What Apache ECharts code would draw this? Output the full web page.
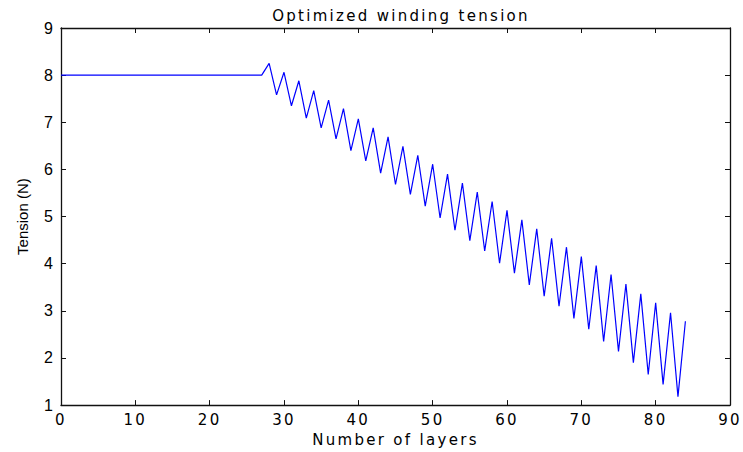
<!DOCTYPE html>
<html>
<head>
<meta charset="utf-8">
<script src="https://cdn.jsdelivr.net/npm/echarts@6/dist/echarts.min.js"></script>
<style>
html,body{margin:0;padding:0;background:#fff;}
#chart{width:743px;height:452px;}
#chart text[style*="DejaVu"], #chart text[font-family*="DejaVu"]{letter-spacing:2.3px;}
</style>
</head>
<body>
<div id="chart"></div>
<script>
var layers = [0,1,2,3,4,5,6,7,8,9,10,11,12,13,14,15,16,17,18,19,20,21,22,23,24,25,26,27,
  28,29,30,31,32,33,34,35,36,37,38,39,40,41,42,43,44,45,46,47,48,49,50,51,52,53,54,55,56,
  57,58,59,60,61,62,63,64,65,66,67,68,69,70,71,72,73,74,75,76,77,78,79,80,81,82,83,84];
var tension = [8,8,8,8,8,8,8,8,8,8,8,8,8,8,8,8,8,8,8,8,8,8,8,8,8,8,8,8,
  8.25,7.58,8.06,7.35,7.88,7.09,7.67,6.88,7.47,6.65,7.29,6.40,7.07,6.18,6.88,5.92,6.69,5.68,
  6.49,5.47,6.30,5.22,6.11,4.97,5.90,4.71,5.71,4.49,5.52,4.27,5.32,4.01,5.13,3.80,4.93,3.55,
  4.74,3.31,4.54,3.10,4.35,2.84,4.15,2.61,3.96,2.35,3.77,2.14,3.57,1.90,3.36,1.65,3.17,1.44,
  2.96,1.18,2.78];
var xTicks = [0,10,20,30,40,50,60,70,80,90];
var yTicks = [1,2,3,4,5,6,7,8,9];

var WIDE = '"DejaVu Sans", Verdana, sans-serif';
var NARROW = '"Liberation Sans", Arial, Helvetica, sans-serif';
var data = layers.map(function(x,i){return [x, tension[i]];});

var chart = echarts.init(document.getElementById('chart'), null, {renderer:'svg'});
var axisLine = {show:true, onZero:false, lineStyle:{color:'#111', width:1.3}};
var tick = {show:true, inside:true, length:5, lineStyle:{color:'#111', width:1}};
chart.setOption({
  animation:false,
  backgroundColor:'#fff',
  title:{text:'Optimized winding tension', left:396, top:3, textAlign:'center',
    textStyle:{fontFamily:WIDE, fontSize:15, fontWeight:'normal', color:'#000'}},
  grid:{left:61, right:13, top:28, bottom:46, containLabel:false},
  xAxis:[{
    type:'value', min:xTicks[0], max:xTicks[xTicks.length-1], interval:10,
    name:'Number of layers', nameLocation:'middle', nameGap:25,
    nameTextStyle:{fontFamily:WIDE, fontSize:15, color:'#000'},
    axisLine:axisLine, axisTick:tick, splitLine:{show:false},
    axisLabel:{fontFamily:WIDE, fontSize:15, color:'#000', margin:7}
  },{
    type:'value', position:'top', min:xTicks[0], max:xTicks[xTicks.length-1], interval:10,
    axisLine:axisLine, axisTick:tick, splitLine:{show:false}, axisLabel:{show:false}
  }],
  yAxis:[{
    type:'value', min:yTicks[0], max:yTicks[yTicks.length-1], interval:1,
    name:'Tension (N)', nameLocation:'middle', nameGap:31,
    nameTextStyle:{fontFamily:NARROW, fontSize:15, color:'#000'},
    axisLine:axisLine, axisTick:tick, splitLine:{show:false},
    axisLabel:{fontFamily:NARROW, fontSize:16, color:'#000', margin:8}
  },{
    type:'value', position:'right', min:yTicks[0], max:yTicks[yTicks.length-1], interval:1,
    axisLine:axisLine, axisTick:tick, splitLine:{show:false}, axisLabel:{show:false}
  }],
  series:[{
    type:'line', data:data, xAxisIndex:0, yAxisIndex:0,
    showSymbol:false, symbol:'none',
    lineStyle:{color:'#0000ff', width:1.2}
  }]
});
</script>
</body>
</html>
